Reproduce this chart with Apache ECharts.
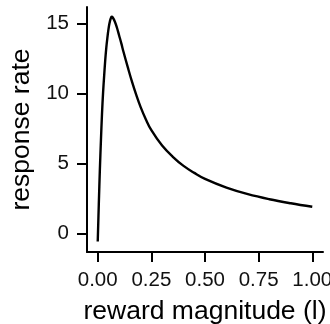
<!DOCTYPE html>
<html>
<head>
<meta charset="utf-8">
<script src="https://cdn.jsdelivr.net/npm/echarts@6/dist/echarts.min.js"></script>
<style>
  html, body { margin: 0; padding: 0; background: #fff; }
  #chart { width: 330px; height: 324px; }
</style>
</head>
<body>
<div id="chart"></div>
<script>
// reward magnitude (I) and response rate
var magnitude = [0, 0.005, 0.01, 0.015, 0.02, 0.025, 0.03, 0.035, 0.04, 0.045, 0.05, 0.055, 0.06, 0.065, 0.07, 0.08, 0.09, 0.10, 0.11, 0.12, 0.14, 0.16, 0.18, 0.20, 0.225, 0.25, 0.30, 0.35, 0.40, 0.45, 0.50, 0.60, 0.70, 0.80, 0.90, 1.00];
var rate = [-0.55, 2.1, 4.6, 6.7, 8.6, 10.1, 11.3, 12.4, 13.3, 14.0, 14.6, 15.05, 15.35, 15.5, 15.45, 15.15, 14.7, 14.15, 13.6, 13.0, 11.9, 10.85, 9.9, 9.05, 8.15, 7.4, 6.3, 5.5, 4.85, 4.35, 3.92, 3.3, 2.83, 2.47, 2.18, 1.93];
var xTicks = [0, 0.25, 0.5, 0.75, 1];
var yTicks = [0, 5, 10, 15];

var points = magnitude.map(function (m, i) { return [m, rate[i]]; });

var myChart = echarts.init(document.getElementById('chart'));
var font = 'Liberation Sans, Arial, sans-serif';

myChart.setOption({
    animation: false,
    backgroundColor: '#fff',
    grid: { left: 87, right: 7, top: 7, bottom: 72, outerBoundsMode: 'none' },
    xAxis: {
        type: 'value',
        min: -0.05,
        max: 1.05,
        name: 'reward magnitude (l)',
        nameLocation: 'middle',
        nameGap: 46,
        nameTextStyle: { fontFamily: font, fontSize: 26.5, color: '#000' },
        axisLine: { show: true, onZero: false, lineStyle: { color: '#000', width: 2 } },
        axisTick: { show: true, length: 10, lineStyle: { color: '#000', width: 2 }, customValues: xTicks },
        axisLabel: {
            margin: 18, fontFamily: font, fontSize: 20.5, color: '#111',
            customValues: xTicks,
            formatter: function (v) { return v.toFixed(2); }
        },
        splitLine: { show: false }
    },
    yAxis: {
        type: 'value',
        min: -1.3,
        max: 16.2,
        name: 'response rate',
        nameLocation: 'middle',
        nameGap: 49,
        nameTextStyle: { fontFamily: font, fontSize: 26.5, color: '#000' },
        axisLine: { show: true, onZero: false, lineStyle: { color: '#000', width: 2 } },
        axisTick: { show: true, length: 10, lineStyle: { color: '#000', width: 2 }, customValues: yTicks },
        axisLabel: {
            margin: 18, fontFamily: font, fontSize: 20.5, color: '#111',
            customValues: yTicks
        },
        splitLine: { show: false }
    },
    series: [{
        type: 'line',
        data: points,
        showSymbol: false,
        smooth: 0.4,
        lineStyle: { color: '#000', width: 2.4 }
    }]
});
</script>
</body>
</html>
